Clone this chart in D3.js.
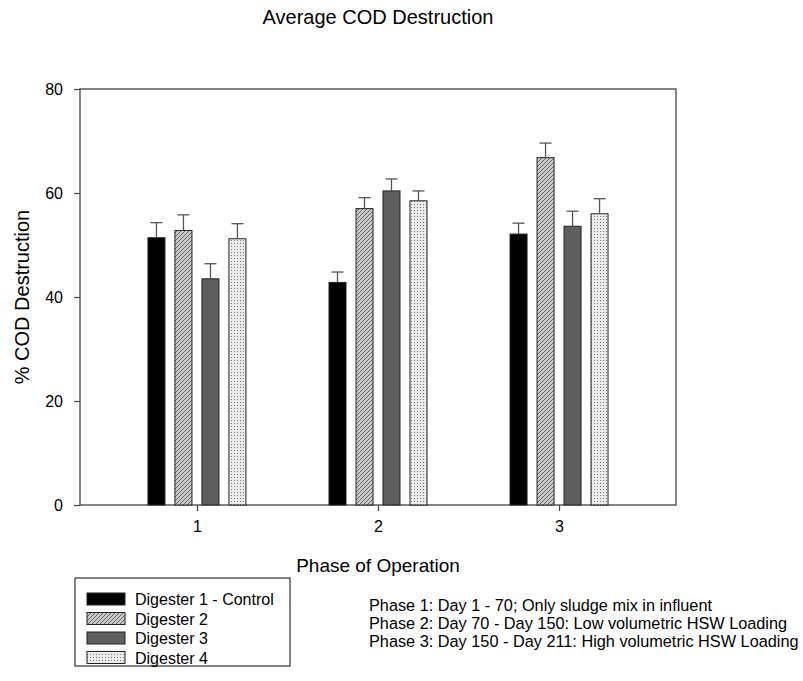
<!DOCTYPE html>
<html>
<head>
<meta charset="utf-8">
<script src="https://cdn.jsdelivr.net/npm/d3@7"></script>
<style>
    body { margin: 0; background: #fff; }
    text { font-family: "Liberation Sans", Arial, sans-serif; fill: #000; }
</style>
</head>
<body>
<svg id="chart"></svg>
<script>
// values
const phases = ['1', '2', '3'];
const digesters = ['Digester 1 - Control', 'Digester 2', 'Digester 3', 'Digester 4'];
const digester1 = [51.4, 42.8, 52.1];
const digester2 = [52.8, 57.0, 66.8];
const digester3 = [43.5, 60.4, 53.6];
const digester4 = [51.2, 58.5, 56.0];
const err1 = [2.9, 2.0, 2.1];
const err2 = [3.0, 2.1, 2.8];
const err3 = [2.9, 2.3, 2.9];
const err4 = [2.9, 1.9, 2.9];
const yTicks = [0, 20, 40, 60, 80];
const phaseNotes = [
    'Phase 1: Day 1 - 70; Only sludge mix in influent',
    'Phase 2: Day 70 - Day 150: Low volumetric HSW Loading',
    'Phase 3: Day 150 - Day 211: High volumetric HSW Loading'
];

const width = 803;
const height = 681;
const margin = {top: 89, right: 127, bottom: 176, left: 80};

const svg = d3.select('#chart')
    .attr('width', width)
    .attr('height', height);

// fill patterns
const defs = svg.append('defs');

const hatch = defs.append('pattern')
    .attr('id', 'hatch')
    .attr('patternUnits', 'userSpaceOnUse')
    .attr('width', 4)
    .attr('height', 4);
hatch.append('rect').attr('width', 4).attr('height', 4).attr('fill', '#cacaca');
hatch.append('path')
    .attr('d', 'M-1,1 l2,-2 M0,4 l4,-4 M3,5 l2,-2')
    .attr('stroke', '#3a3a3a')
    .attr('stroke-width', 0.7);

const dots = defs.append('pattern')
    .attr('id', 'dots')
    .attr('patternUnits', 'userSpaceOnUse')
    .attr('width', 3)
    .attr('height', 3);
dots.append('rect').attr('width', 3).attr('height', 3).attr('fill', '#ececec');
dots.append('rect').attr('width', 1).attr('height', 1).attr('fill', '#7a7a7a');

const fills = ['#000', 'url(#hatch)', '#5f5f5f', 'url(#dots)'];

const series = digesters.map((name, i) => ({
    name: name,
    fill: fills[i],
    means: [digester1, digester2, digester3, digester4][i],
    errs: [err1, err2, err3, err4][i]
}));

const data = [];
phases.forEach((p, pi) => {
    series.forEach((s, si) => {
        data.push({phase: p, digester: s.name, value: s.means[pi], err: s.errs[pi], fill: s.fill});
    });
});

const x0 = d3.scalePoint()
    .domain(phases)
    .range([margin.left, width - margin.right])
    .padding(0.646);

const x1 = d3.scaleBand()
    .domain(digesters)
    .range([-49, 49])
    .paddingInner(0.37);

const y = d3.scaleLinear()
    .domain([0, 80])
    .range([height - margin.bottom, margin.top]);

const plotLeft = margin.left;
const plotRight = width - margin.right;

// frame
svg.append('rect')
    .attr('x', plotLeft)
    .attr('y', y(80))
    .attr('width', plotRight - plotLeft)
    .attr('height', y(0) - y(80))
    .attr('fill', 'none')
    .attr('stroke', '#444')
    .attr('stroke-width', 1.3);

// bars
const bars = svg.append('g').attr('class', 'bars');

bars.selectAll('rect')
    .data(data)
    .enter()
    .append('rect')
    .attr('x', d => x0(d.phase) + x1(d.digester))
    .attr('y', d => y(d.value))
    .attr('width', x1.bandwidth())
    .attr('height', d => y(0) - y(d.value))
    .attr('fill', d => d.fill)
    .attr('stroke', '#222')
    .attr('stroke-width', 1);

// error bars (upper only)
const errs = svg.append('g').attr('class', 'errors')
    .attr('stroke', '#555')
    .attr('stroke-width', 1.3);

errs.selectAll('line.stem')
    .data(data)
    .enter()
    .append('line')
    .attr('class', 'stem')
    .attr('x1', d => x0(d.phase) + x1(d.digester) + x1.bandwidth() / 2)
    .attr('x2', d => x0(d.phase) + x1(d.digester) + x1.bandwidth() / 2)
    .attr('y1', d => y(d.value))
    .attr('y2', d => y(d.value + d.err));

errs.selectAll('line.cap')
    .data(data)
    .enter()
    .append('line')
    .attr('class', 'cap')
    .attr('x1', d => x0(d.phase) + x1(d.digester) + x1.bandwidth() / 2 - 6)
    .attr('x2', d => x0(d.phase) + x1(d.digester) + x1.bandwidth() / 2 + 6)
    .attr('y1', d => y(d.value + d.err))
    .attr('y2', d => y(d.value + d.err));

// axes
const yAxis = svg.append('g')
    .attr('transform', `translate(${plotLeft},0)`)
    .call(d3.axisLeft(y).tickValues(yTicks).tickSize(6).tickPadding(11));

const xAxis = svg.append('g')
    .attr('transform', `translate(0,${y(0)})`)
    .call(d3.axisBottom(x0).tickSize(6).tickPadding(10));

[yAxis, xAxis].forEach(a => {
    a.select('.domain').remove();
    a.selectAll('line').attr('stroke', '#444').attr('stroke-width', 1.2);
    a.selectAll('text').style('font-size', '16px').attr('fill', '#000');
});

// titles
svg.append('text')
    .attr('x', (plotLeft + plotRight) / 2)
    .attr('y', 24)
    .attr('text-anchor', 'middle')
    .style('font-size', '20px')
    .text('Average COD Destruction');

svg.append('text')
    .attr('transform', `translate(29,${(y(0) + y(80)) / 2}) rotate(-90)`)
    .attr('text-anchor', 'middle')
    .style('font-size', '20px')
    .text('% COD Destruction');

svg.append('text')
    .attr('x', (plotLeft + plotRight) / 2)
    .attr('y', 572)
    .attr('text-anchor', 'middle')
    .style('font-size', '19px')
    .text('Phase of Operation');

// legend
const legend = svg.append('g').attr('class', 'legend');

legend.append('rect')
    .attr('x', 75)
    .attr('y', 578)
    .attr('width', 215)
    .attr('height', 88)
    .attr('fill', 'none')
    .attr('stroke', '#333')
    .attr('stroke-width', 1.2);

const rowH = 19.5;

legend.selectAll('rect.swatch')
    .data(series)
    .enter()
    .append('rect')
    .attr('class', 'swatch')
    .attr('x', 87)
    .attr('y', (d, i) => 593 + i * rowH)
    .attr('width', 38)
    .attr('height', 12)
    .attr('fill', d => d.fill)
    .attr('stroke', '#222')
    .attr('stroke-width', 1);

legend.selectAll('text')
    .data(series)
    .enter()
    .append('text')
    .attr('x', 135)
    .attr('y', (d, i) => 605 + i * rowH)
    .style('font-size', '16px')
    .text(d => d.name);

// phase notes
svg.append('g')
    .selectAll('text')
    .data(phaseNotes)
    .enter()
    .append('text')
    .attr('x', 369)
    .attr('y', (d, i) => 611 + i * 18)
    .style('font-size', '16.3px')
    .text(d => d);
</script>
</body>
</html>
